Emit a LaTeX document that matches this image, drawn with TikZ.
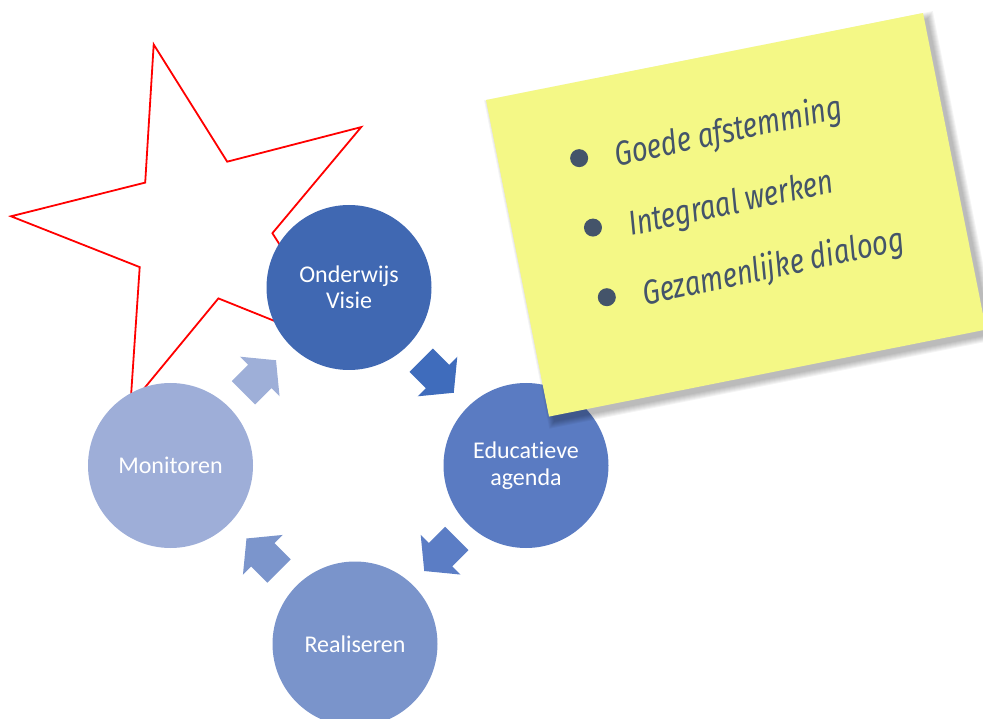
\documentclass[tikz,border=0pt]{standalone}
\usepackage{fontspec}
\setmainfont{Carlito}[Ligatures=NoCommon]
\newfontfamily\notefont{Fira Sans}
\usetikzlibrary{calc}
\definecolor{cO}{HTML}{4068B2}
\definecolor{cE}{HTML}{5A7BC2}
\definecolor{cR}{HTML}{7A94CB}
\definecolor{cM}{HTML}{9EAED8}
\definecolor{aOne}{HTML}{3F6CBC}
\definecolor{aTwo}{HTML}{5B7DC5}
\definecolor{aThree}{HTML}{7B95CC}
\definecolor{aFour}{HTML}{9EAFD8}
\definecolor{noteyellow}{HTML}{F4F886}
\definecolor{notetext}{HTML}{44546A}
\definecolor{starred}{HTML}{FF0000}
\tikzset{
  stage/.style={circle, minimum size=165pt, inner sep=0pt, text=white, align=center,
    font=\fontsize{24}{26.5}\selectfont},
  blockarrow/.pic={\fill[pic actions] (-23,-16.5) -- (0,-16.5) -- (0,-28) -- (23,0) -- (0,28) -- (0,16.5) -- (-23,16.5) -- cycle;},
  notebullet/.style={circle, fill=notetext, minimum size=18pt, inner sep=0pt},
  noteline/.style={anchor=base west, rotate=12, inner sep=0pt, text=notetext,
    font=\notefont\itshape\fontsize{28}{30}\selectfont}
}
\newcommand{\notetxt}[1]{\scalebox{0.98}[1.22]{#1}}
\begin{document}
\begin{tikzpicture}[x=1pt,y=-1pt]
\path[use as bounding box] (0,0) rectangle (983,719);
% star
\draw[starred, line width=1.8pt, miter limit=20]
  (153.7,44.5) -- (227.2,161.7) -- (361.2,127.1) -- (272.4,233.2) -- (346.8,350.0)
  -- (218.4,298.4) -- (130.4,405.1) -- (139.7,267.1) -- (11.0,216.3) -- (145.2,182.6) -- cycle;
% stages
\node[stage, fill=cO] (vis) at (349,287.5) {Onderwijs\\Visie};
\node[stage, fill=cE] (edu) at (526,465.5) {Educatieve\\agenda};
\node[stage, fill=cR] (rea) at (355,644) {Realiseren};
\node[stage, fill=cM] (mon) at (170.5,465.5) {Monitoren};
% arrows
\pic[fill=aOne, rotate=-45] at ($(vis)!0.5!(edu)$) {blockarrow};
\pic[fill=aTwo, rotate=-135] at ($(edu)!0.5!(rea)$) {blockarrow};
\pic[fill=aThree, rotate=135] at ($(rea)!0.5!(mon)$) {blockarrow};
\pic[fill=aFour, rotate=45] at ($(mon)!0.5!(vis)$) {blockarrow};
% sticky note
\begin{scope}[shift={(486,100)}, rotate=11.26]
  \foreach \e in {0,1,...,6} {
    \fill[black, opacity=0.045] (4-\e,6-\e) rectangle (449.6+\e,328.8+\e);
  }
  \fill[noteyellow] (0,0) rectangle (445.6,322.8);
  \node[notebullet] (b1) at (80,75.2) {};
  \node[notebullet] (b2) at (80,146) {};
  \node[notebullet] (b3) at (80,217) {};
  \node[noteline] (t1) at (116,90.5) {\notetxt{Goede afstemming}};
  \node[noteline] (t2) at (116,161.5) {\notetxt{Integraal werken}};
  \node[noteline] (t3) at (116,232.5) {\notetxt{Gezamenlijke dialoog}};
\end{scope}
\end{tikzpicture}
\end{document}
